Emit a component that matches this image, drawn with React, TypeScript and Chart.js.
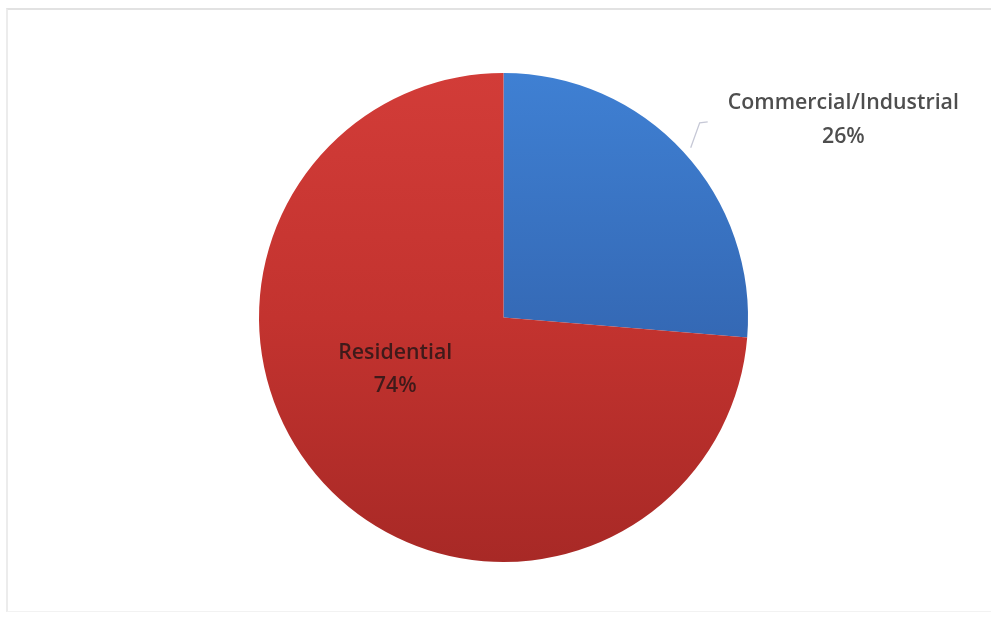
import React, { useEffect, useRef } from "react";
import { Chart, registerables } from "chart.js";

Chart.register(...registerables);

const categories = ["Commercial/Industrial", "Residential"];
const shares = [26.3, 73.7];
const pctLabels = ["26%", "74%"];

const FONT = "'Open Sans', Lato, sans-serif";

const labelPlugin = {
  id: "pieLabels",
  afterDatasetsDraw(chart: any) {
    const ctx = chart.ctx;
    const meta = chart.getDatasetMeta(0);
    const blue = meta.data[0];
    const red = meta.data[1];
    if (!blue || !red) return;
    const cx = blue.x;
    const cy = blue.y;
    const r = blue.outerRadius;
    ctx.save();
    // leader line for outside label
    const mid = (blue.startAngle + blue.endAngle) / 2;
    const sx = cx + Math.cos(mid) * r * 1.03;
    const sy = cy + Math.sin(mid) * r * 1.03;
    ctx.strokeStyle = "#c6c8d6";
    ctx.lineWidth = 1.3;
    ctx.beginPath();
    ctx.moveTo(sx + 2, sy + 1);
    ctx.lineTo(sx + 11, sy - 24);
    ctx.lineTo(sx + 19, sy - 25);
    ctx.stroke();

    // size font so the outside label spans ~0.945 r
    ctx.font = `600 20px ${FONT}`;
    const w = ctx.measureText(categories[0]).width;
    const size = 20 * (r * 0.945) / w;
    ctx.font = `600 ${size.toFixed(2)}px ${FONT}`;
    ctx.textAlign = "center";
    ctx.textBaseline = "middle";
    ctx.fillStyle = "#4e4e4e";
    const ox = cx + r * 1.39;
    const oy = cy - r * 0.878;
    ctx.fillText(categories[0], ox, oy);
    ctx.fillText(pctLabels[0], ox, oy + 34);

    ctx.fillStyle = "#3f1a1a";
    const ix = cx - r * 0.443;
    const iy = cy + r * 0.143;
    ctx.fillText(categories[1], ix, iy);
    ctx.fillText(pctLabels[1], ix, iy + 33);
    ctx.restore();
  },
};

export default function App() {
  const ref = useRef<HTMLCanvasElement | null>(null);
  useEffect(() => {
    document.body.style.margin = "0";
    document.body.style.overflow = "hidden";
    const canvas = ref.current!;
    const makeFill = (ctxArg: any) => {
      const chart = ctxArg.chart;
      const area = chart.chartArea;
      if (!area) return ctxArg.dataIndex === 0 ? "#3a78c8" : "#c0332f";
      const g = chart.ctx.createLinearGradient(0, area.top, 0, area.bottom);
      if (ctxArg.dataIndex === 0) {
        g.addColorStop(0, "#3f80d3");
        g.addColorStop(0.55, "#3468b4");
        g.addColorStop(1, "#2c5ca0");
      } else {
        g.addColorStop(0, "#d23c38");
        g.addColorStop(0.5, "#c3332f");
        g.addColorStop(1, "#a82926");
      }
      return g;
    };
    const chart = new Chart(canvas, {
      type: "pie",
      data: {
        labels: categories,
        datasets: [
          {
            data: shares,
            backgroundColor: makeFill as any,
            borderWidth: 0,
          },
        ],
      },
      options: {
        animation: false,
        responsive: false,
        maintainAspectRatio: false,
        layout: { padding: { top: 73, bottom: 60, left: 16, right: 0 } },
        plugins: {
          legend: { display: false },
          tooltip: { enabled: false },
          title: { display: false },
        },
      },
      plugins: [labelPlugin],
    });
    return () => chart.destroy();
  }, []);
  return (
    <div style={{ position: "relative", width: 991, height: 622, background: "#fff", overflow: "hidden" }}>
      <div
        style={{
          position: "absolute",
          left: 6,
          top: 8,
          width: 1000,
          height: 604,
          borderTop: "2px solid #e2e2e2",
          borderLeft: "2px solid #ececec",
          borderBottom: "1px solid #f2f2f2",
          boxSizing: "border-box",
        }}
      />
      <canvas ref={ref} width={991} height={622} style={{ position: "absolute", left: 0, top: 0 }} />
    </div>
  );
}
